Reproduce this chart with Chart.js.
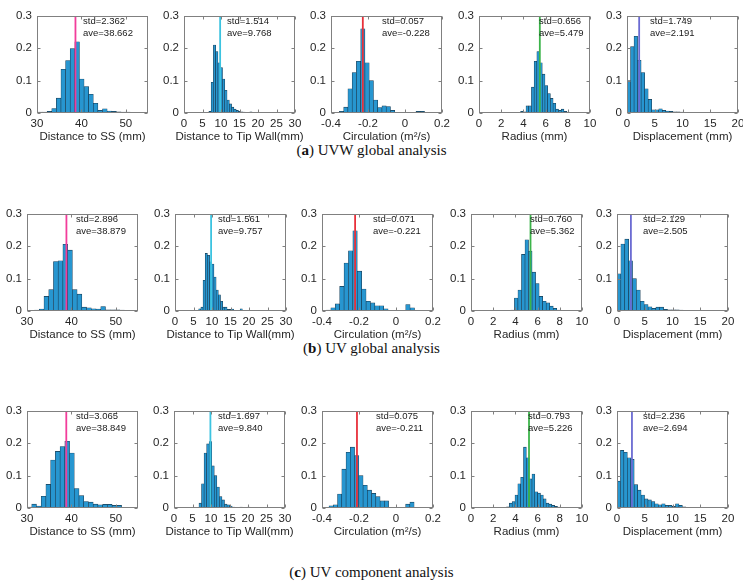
<!DOCTYPE html>
<html>
<head>
<meta charset="utf-8">
<script src="https://cdn.jsdelivr.net/npm/chart.js@4.4.1/dist/chart.umd.min.js"></script>
<style>
    body { margin: 0; background: #fff; width: 743px; height: 586px; position: relative; overflow: hidden; }
    canvas { position: absolute; }
    .cap { position: absolute; left: 0; width: 743px; text-align: center;
           font-family: "Liberation Serif", "DejaVu Serif", serif; font-size: 15px; line-height: 18px; color: #111; }
</style>
</head>
<body>
<div class="cap" style="top:141px">(<b>a</b>) UVW global analysis</div>
<div class="cap" style="top:339px">(<b>b</b>) UV global analysis</div>
<div class="cap" style="top:563px">(<b>c</b>) UV component analysis</div>
<div id="panels"></div>

<script>
'use strict';

/* Grandeurs tracées (une colonne par grandeur) */
var X_TITLES = ['Distance to SS (mm)', 'Distance to Tip Wall(mm)', 'Circulation (m\u00b2/s)', 'Radius (mm)', 'Displacement (mm)'];
var X_MIN    = [30, 0, -0.4, 0, 0];
var X_MAX    = [55, 30, 0.2, 10, 20];
var X_TICKS  = [
    [30, 40, 50],
    [0, 5, 10, 15, 20, 25, 30],
    [-0.4, -0.2, 0, 0.2],
    [0, 2, 4, 6, 8, 10],
    [0, 5, 10, 15, 20]
];
var Y_TICKS = [0, 0.1, 0.2, 0.3];

/* (a) UVW global : 20 classes, probabilité par classe */
var uvwBinStart = [30.2, 6.1, -0.3545, 3.26, 0];
var uvwBinWidth = [1.04, 0.615, 0.023, 0.244, 0.636];
var uvwSS     = [0.003, 0.003, 0.005, 0.014, 0.046, 0.135, 0.162, 0.199, 0.22, 0.105, 0.082, 0.058, 0.03, 0.008, 0.013, 0.006, 0.005, 0.004, 0.003, 0.003];
var uvwTip    = [0.002, 0.005, 0.095, 0.21, 0.19, 0.155, 0.14, 0.105, 0.07, 0.04, 0.028, 0.018, 0.012, 0.008, 0.005, 0.004, 0.003, 0.002, 0.001, 0.004];
var uvwCirc   = [0.005, 0.018, 0.075, 0.125, 0.16, 0.26, 0.155, 0.1, 0.04, 0.017, 0.022, 0.02, 0.008, 0, 0, 0, 0, 0, 0.005, 0.005];
var uvwRadius = [0.002, 0.002, 0.005, 0.004, 0.022, 0.022, 0.08, 0.16, 0.19, 0.155, 0.12, 0.085, 0.06, 0.045, 0.03, 0.012, 0.008, 0.012, 0.005, 0.003];
var uvwDisp   = [0.1, 0.205, 0.237, 0.163, 0.125, 0.075, 0.042, 0.01, 0.01, 0.013, 0.008, 0.006, 0.005, 0.004, 0.004, 0.003, 0.002, 0.002, 0.001, 0.002];
var uvwStd = [2.362, 1.514, 0.057, 0.656, 1.749];
var uvwAve = [38.662, 9.768, -0.228, 5.479, 2.191];

/* (b) UV global */
var uvBinStart = [31.7, 6.4, -0.376, 2.64, 0];
var uvBinWidth = [1.065, 0.59, 0.0238, 0.318, 0.7];
var uvSS     = [0.003, 0.006, 0.045, 0.066, 0.153, 0.155, 0.206, 0.188, 0.066, 0.052, 0.012, 0.01, 0.007, 0.006, 0.014, 0.004, 0.004, 0.004, 0.003, 0.001];
var uvTip    = [0.007, 0.012, 0.095, 0.178, 0.172, 0.152, 0.145, 0.105, 0.065, 0.05, 0.03, 0.012, 0.012, 0.005, 0.005, 0.006, 0.002, 0.002, 0.001, 0.007];
var uvCirc   = [0.003, 0.01, 0.022, 0.076, 0.148, 0.186, 0.248, 0.123, 0.068, 0.03, 0.025, 0.016, 0.016, 0.007, 0, 0, 0, 0, 0.02, 0.01];
var uvRadius = [0.002, 0, 0, 0.003, 0.04, 0.065, 0.175, 0.22, 0.185, 0.12, 0.085, 0.045, 0.03, 0.025, 0.015, 0.008, 0.003, 0.001, 0.002, 0.002];
var uvDisp   = [0.115, 0.207, 0.222, 0.155, 0.1, 0.065, 0.03, 0.02, 0.013, 0.008, 0.012, 0.012, 0.005, 0.004, 0.004, 0.004, 0.003, 0.002, 0.002, 0.001];
var uvStd = [2.896, 1.561, 0.071, 0.760, 2.129];
var uvAve = [38.879, 9.757, -0.221, 5.362, 2.505];

/* (c) UV component */
var uvcBinStart = [30.0, 6.75, -0.362, 3.2, 0];
var uvcBinWidth = [1.065, 0.69, 0.023, 0.255, 0.62];
var uvcSS     = [0.003, 0.012, 0.006, 0.036, 0.073, 0.148, 0.175, 0.19, 0.206, 0.17, 0.06, 0.038, 0.02, 0.018, 0.012, 0.01, 0.011, 0.011, 0.008, 0.008];
var uvcTip    = [0.015, 0.075, 0.17, 0.198, 0.205, 0.13, 0.1, 0.065, 0.035, 0.025, 0.012, 0.01, 0.006, 0.003, 0.002, 0.001, 0.003, 0, 0, 0.003];
var uvcCirc   = [0.007, 0.01, 0.043, 0.12, 0.172, 0.188, 0.162, 0.1, 0.07, 0.055, 0.045, 0.035, 0.022, 0.022, 0, 0, 0, 0, 0.012, 0.018];
var uvcRadius = [0.004, 0.015, 0.02, 0.04, 0.075, 0.095, 0.188, 0.155, 0.09, 0.105, 0.05, 0.046, 0.04, 0.028, 0.015, 0.012, 0.008, 0.005, 0.003, 0.002];
var uvcDisp   = [0.083, 0.178, 0.172, 0.155, 0.15, 0.072, 0.055, 0.04, 0.028, 0.025, 0.02, 0.013, 0.01, 0.013, 0.008, 0.008, 0.005, 0.013, 0.008, 0.004];
var uvcStd = [3.065, 1.697, 0.075, 0.793, 2.236];
var uvcAve = [38.849, 9.840, -0.211, 5.226, 2.694];

var ROWS = [
    { start: uvwBinStart, width: uvwBinWidth, hist: [uvwSS, uvwTip, uvwCirc, uvwRadius, uvwDisp], std: uvwStd, ave: uvwAve },
    { start: uvBinStart,  width: uvBinWidth,  hist: [uvSS, uvTip, uvCirc, uvRadius, uvDisp],       std: uvStd,  ave: uvAve },
    { start: uvcBinStart, width: uvcBinWidth, hist: [uvcSS, uvcTip, uvcCirc, uvcRadius, uvcDisp],  std: uvcStd, ave: uvcAve }
];

/* Mise en page : zone de tracé de chaque vignette (px) */
var PLOT_W = 111, PLOT_H = 101;
var ROW_TOP  = [12, 210, 407];
var COL_LEFT = [
    [37, 184, 331, 479, 627],
    [27, 175, 322, 471, 617],
    [27, 174, 322, 471, 617]
];
var NOTE_DX = [
    [46, 43, 51, 60, 23],
    [49, 43, 51, 59, 26],
    [49, 44, 54, 57, 26]
];
var AXIS_W = 28, PAD_TOP = 8, PAD_RIGHT = 14, XAXIS_H = 34;

var BAR_FILL  = '#2796d0';
var BAR_EDGE  = '#173a52';
var MEAN_COLORS = ['#f23d9b', '#3cc3e0', '#e8303a', '#3cb44a', '#6b6bd2'];
var BOX_COLOR = '#808080';
var TXT_COLOR = '#262626';
var FONT = '"Liberation Sans", Arial, sans-serif';

/* Cadre façon MATLAB : boîte, graduations vers l'intérieur, titre de l'axe x, texte std/ave */
var matlabAxes = {
    id: 'matlabAxes',
    afterDatasetsDraw: function (chart, args, opts) {
        var ctx = chart.ctx;
        var a   = chart.chartArea;
        var xs  = chart.scales.x, ys = chart.scales.y;
        var L = Math.round(a.left) + 0.5, R = Math.round(a.right) - 0.5;
        var T = Math.round(a.top) + 0.5,  B = Math.round(a.bottom) - 0.5;
        ctx.save();
        ctx.strokeStyle = BOX_COLOR;
        ctx.lineWidth = 1;
        ctx.strokeRect(L, T, R - L, B - T);
        ctx.beginPath();
        xs.ticks.forEach(function (t) {
            var px = Math.round(xs.getPixelForValue(t.value)) + 0.5;
            ctx.moveTo(px, B); ctx.lineTo(px, B - 3);
            ctx.moveTo(px, T); ctx.lineTo(px, T + 3);
        });
        ys.ticks.forEach(function (t) {
            var py = Math.round(ys.getPixelForValue(t.value)) + 0.5;
            ctx.moveTo(L, py); ctx.lineTo(L + 3, py);
            ctx.moveTo(R, py); ctx.lineTo(R - 3, py);
        });
        ctx.stroke();

        /* titre de l'axe x, plus large que la zone de tracé : pas de compression */
        ctx.fillStyle = TXT_COLOR;
        ctx.font = '11.5px ' + FONT;
        ctx.textAlign = 'center';
        ctx.textBaseline = 'middle';
        ctx.fillText(opts.title, (a.left + a.right) / 2, a.bottom + 24);

        ctx.fillStyle = '#1a1a1a';
        ctx.font = '9.5px ' + FONT;
        ctx.textAlign = 'left';
        ctx.fillText('std=' + opts.std.toFixed(3), a.left + opts.dx, a.top + 5.5);
        ctx.fillText('ave=' + opts.ave.toFixed(3), a.left + opts.dx, a.top + 17);
        ctx.restore();
    }
};

function fixedTicks(values) {
    return function (scale) {
        scale.ticks = values.map(function (v) { return { value: v }; });
    };
}

function drawPanel(r, c) {
    var row   = ROWS[r];
    var probs = row.hist[c];
    var x0 = row.start[c], w = row.width[c];
    var bars = probs.map(function (p, i) { return { x: x0 + w * (i + 0.5), y: p }; });
    var ave  = row.ave[c];

    /* marge à gauche pour que le titre de l'axe x ne soit pas coupé */
    var extraL = 8;
    var cv = document.createElement('canvas');
    var cw = extraL + AXIS_W + PLOT_W + PAD_RIGHT, ch = PAD_TOP + PLOT_H + XAXIS_H;
    cv.width = cw; cv.height = ch;
    cv.style.left = (COL_LEFT[r][c] - AXIS_W - extraL) + 'px';
    cv.style.top  = (ROW_TOP[r] - PAD_TOP) + 'px';
    document.getElementById('panels').appendChild(cv);

    new Chart(cv, {
        type: 'bar',
        data: {
            datasets: [
                {
                    type: 'line',
                    data: [{ x: ave, y: 0 }, { x: ave, y: 0.3 }],
                    borderColor: MEAN_COLORS[c],
                    borderWidth: 1.8,
                    pointRadius: 0,
                    order: 0
                },
                {
                    data: bars,
                    backgroundColor: BAR_FILL,
                    borderColor: BAR_EDGE,
                    borderWidth: 0.6,
                    categoryPercentage: 1,
                    barPercentage: 1,
                    order: 1
                }
            ]
        },
        options: {
            responsive: false,
            devicePixelRatio: 1,
            animation: false,
            events: [],
            layout: { padding: { left: extraL, right: PAD_RIGHT, top: PAD_TOP, bottom: 0 } },
            scales: {
                x: {
                    type: 'linear',
                    min: X_MIN[c], max: X_MAX[c],
                    offset: false,
                    grid: { display: false, drawTicks: false, offset: false },
                    border: { display: false },
                    afterBuildTicks: fixedTicks(X_TICKS[c]),
                    afterFit: function (s) { s.height = XAXIS_H; },
                    ticks: {
                        autoSkip: false, maxRotation: 0, padding: 4,
                        color: TXT_COLOR, font: { family: FONT, size: 11.5 },
                        callback: function (v) { return String(v); }
                    }
                },
                y: {
                    min: 0, max: 0.3,
                    grid: { display: false, drawTicks: false },
                    border: { display: false },
                    afterBuildTicks: fixedTicks(Y_TICKS),
                    afterFit: function (s) { s.width = AXIS_W; },
                    ticks: {
                        padding: 5, color: TXT_COLOR, font: { family: FONT, size: 11.5 },
                        callback: function (v) { return String(v); }
                    }
                }
            },
            plugins: {
                legend: { display: false },
                tooltip: { enabled: false },
                matlabAxes: { std: row.std[c], ave: ave, dx: NOTE_DX[r][c], title: X_TITLES[c] }
            }
        },
        plugins: [matlabAxes]
    });
}

for (var r = 0; r < ROWS.length; r++) {
    for (var c = 0; c < 5; c++) {
        drawPanel(r, c);
    }
}
</script>
</body>
</html>
